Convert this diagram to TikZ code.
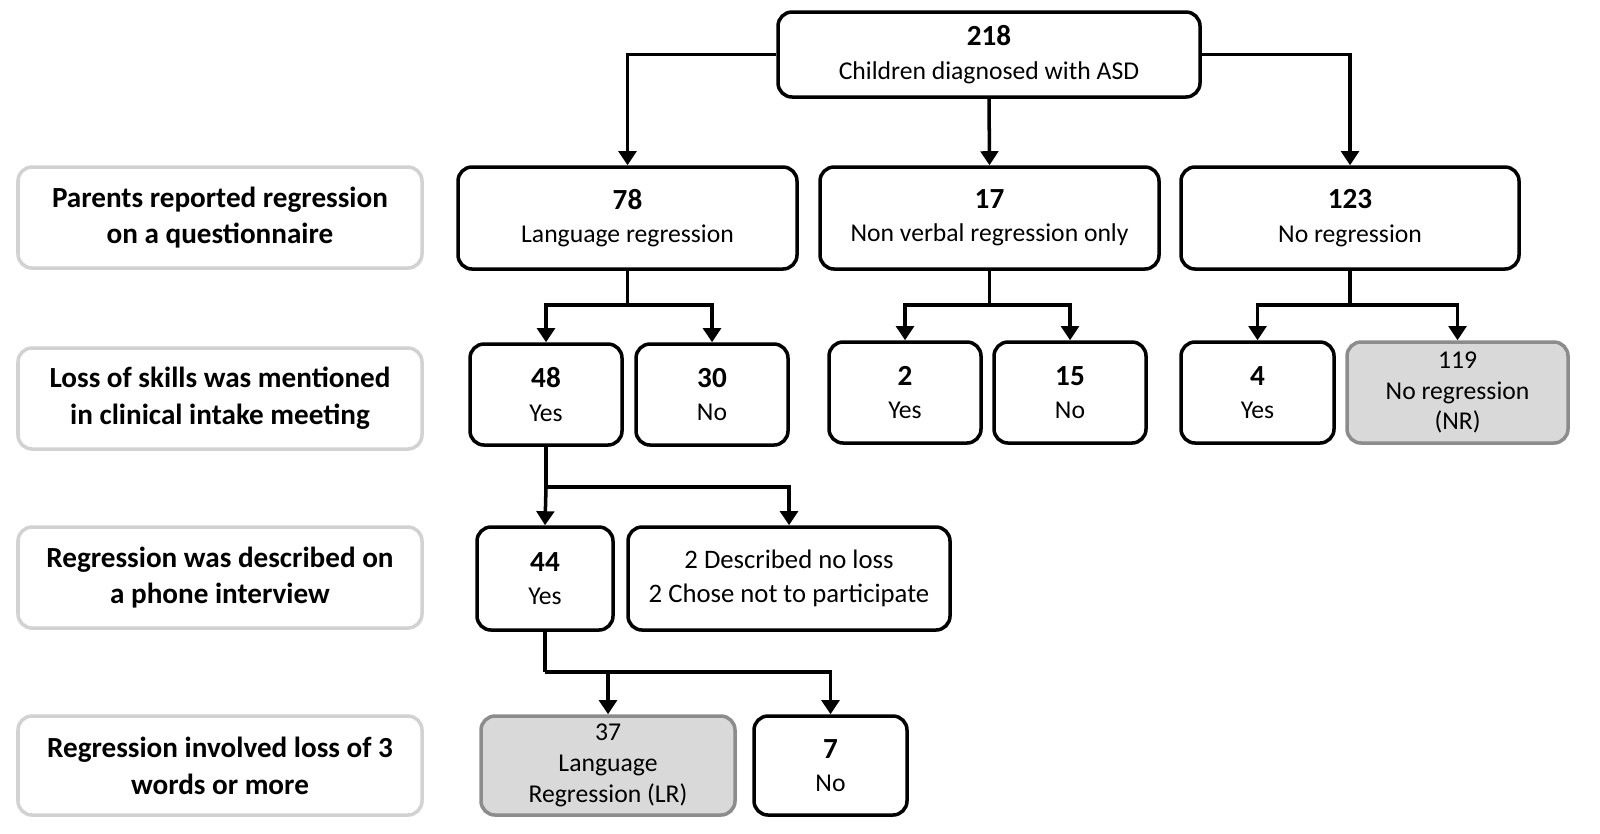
\documentclass[tikz,border=0pt]{standalone}
\usepackage{fontspec}
\setmainfont{Carlito}
\usetikzlibrary{arrows.meta}
\begin{document}
\begin{tikzpicture}[
  box/.style={draw=black, line width=1pt, rounded corners=4pt, align=center, inner sep=1pt, font=\fontsize{7.3}{9.5}\selectfont},
  gbox/.style={box, fill=gray!30, draw=gray!90, font=\fontsize{7.3}{8.8}\selectfont},
  lbl/.style={draw=gray!35, line width=1pt, rounded corners=4pt, align=center, font=\bfseries\fontsize{8.3}{10.5}\selectfont, minimum width=4.04cm, minimum height=1.01cm},
  arr/.style={line width=1pt, -{Triangle[length=4pt,width=5pt]}},
  ln/.style={line width=1pt}
]
\useasboundingbox (0,0) rectangle (16,-8.33);
\newcommand{\nb}[1]{{\bfseries\fontsize{8.3}{10}\selectfont #1}}
\node[box, minimum width=4.22cm, minimum height=0.85cm] (top) at (9.89,-0.545) {\nb{218}\\Children diagnosed with ASD};
\node[lbl] (l1) at (2.20,-2.175) {Parents reported regression\\on a questionnaire};
\node[lbl] (l2) at (2.20,-3.985) {Loss of skills was mentioned\\in clinical intake meeting};
\node[lbl] (l3) at (2.20,-5.775) {Regression was described on\\a phone interview};
\node[lbl, minimum height=0.99cm] (l4) at (2.20,-7.655) {Regression involved loss of 3\\words or more};
\node[box, minimum width=3.39cm, minimum height=1.02cm] (n78) at (6.275,-2.18) {\nb{78}\\Language regression};
\node[box, minimum width=3.39cm, minimum height=1.02cm] (n17) at (9.895,-2.18) {\nb{17}\\Non verbal regression only};
\node[box, minimum width=3.38cm, minimum height=1.02cm] (n123) at (13.5,-2.18) {\nb{123}\\No regression};
\node[box, minimum width=1.52cm, minimum height=1.01cm] (n48) at (5.46,-3.945) {\nb{48}\\Yes};
\node[box, minimum width=1.52cm, minimum height=1.01cm] (n30) at (7.12,-3.945) {\nb{30}\\No};
\node[box, minimum width=1.52cm, minimum height=1.01cm] (n2) at (9.05,-3.925) {\nb{2}\\Yes};
\node[box, minimum width=1.52cm, minimum height=1.01cm] (n15) at (10.70,-3.925) {\nb{15}\\No};
\node[box, minimum width=1.53cm, minimum height=1.01cm] (n4) at (12.575,-3.925) {\nb{4}\\Yes};
\node[gbox, minimum width=2.21cm, minimum height=1.01cm] (n119) at (14.575,-3.925) {119\\No regression\\(NR)};
\node[box, minimum width=1.36cm, minimum height=1.03cm] (n44) at (5.45,-5.785) {\nb{44}\\Yes};
\node[box, minimum width=3.22cm, minimum height=1.03cm, font=\fontsize{7.6}{9.5}\selectfont] (desc) at (7.89,-5.785) {2 Described no loss\\2 Chose not to participate};
\node[gbox, minimum width=2.54cm, minimum height=0.99cm] (n37) at (6.08,-7.655) {37\\Language\\Regression (LR)};
\node[box, minimum width=1.53cm, minimum height=0.99cm] (n7) at (8.305,-7.655) {\nb{7}\\No};
\draw[arr] (top.west) -| (n78.north);
\draw[arr] (top.east) -| (n123.north);
\draw[arr] (top.south) -- (n17.north);
\coordinate (j1) at (n78.south |- 0,-3.05);
\coordinate (j2) at (n17.south |- 0,-3.05);
\coordinate (j3) at (n123.south |- 0,-3.05);
\draw[ln] (n78.south) -- (j1); \draw[arr] (j1) -| (n48.north); \draw[arr] (j1) -| (n30.north);
\draw[ln] (n17.south) -- (j2); \draw[arr] (j2) -| (n2.north); \draw[arr] (j2) -| (n15.north);
\draw[ln] (n123.south) -- (j3); \draw[arr] (j3) -| (n4.north); \draw[arr] (j3) -| (n119.north);
\coordinate (j4) at (n48.south |- 0,-4.87);
\draw[ln] (n48.south) -- (j4); \draw[arr] (j4) -- (n44.north); \draw[arr] (j4) -| (desc.north);
\coordinate (j5) at (n44.south |- 0,-6.72);
\draw[ln] (n44.south) -- (j5); \draw[arr] (j5) -| (n37.north); \draw[arr] (j5) -| (n7.north);
\end{tikzpicture}
\end{document}
